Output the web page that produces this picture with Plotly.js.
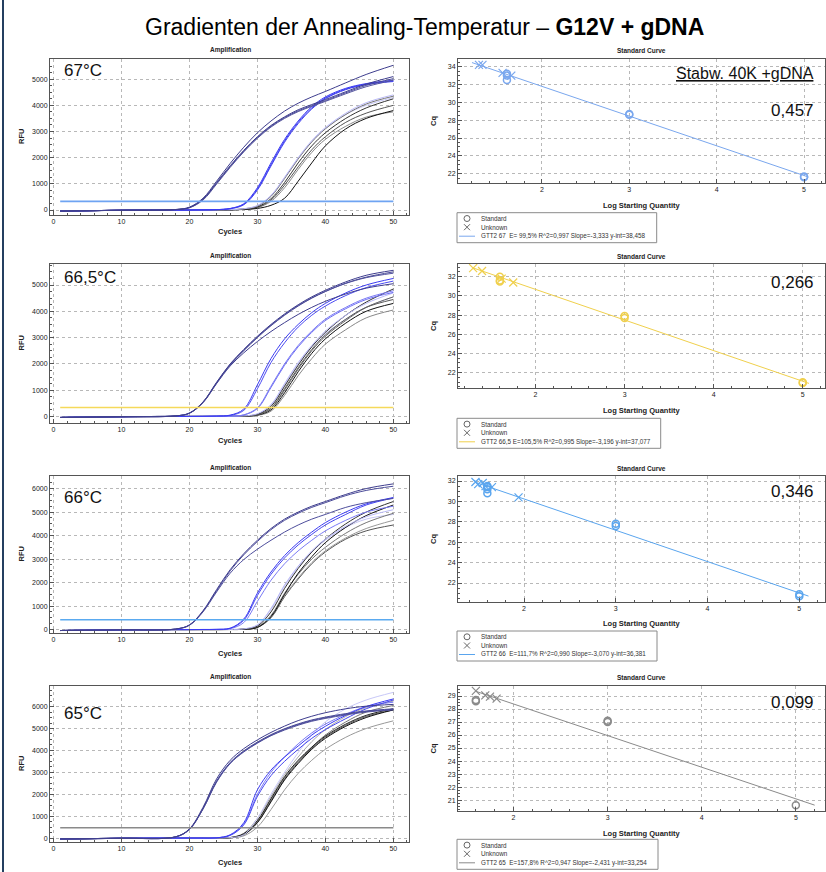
<!DOCTYPE html>
<html><head><meta charset="utf-8">
<script src="https://cdn.plot.ly/plotly-3.0.1.min.js"></script>
<style>html,body{margin:0;padding:0;background:#fff}#chart{width:826px;height:872px}</style>
</head><body><div id="chart"></div>
<script>
// ---------------- DATA ----------------
const cycles = [1,10,18,20,22,24,26,28,30,32,34,36,38,40,43,46,50];

const rfu67 = [
 [-40,-10,20,110,450,1100,1780,2400,2950,3400,3780,4080,4320,4530,4860,5180,5530],
 [-40,-10,20,100,420,1050,1690,2280,2800,3230,3560,3830,4030,4220,4520,4810,5100],
 [-40,-10,15,90,400,1020,1660,2250,2770,3200,3530,3790,3990,4180,4480,4760,5020],
 [-40,-10,15,85,380,990,1630,2220,2740,3170,3500,3760,3960,4150,4440,4710,4960],
 [-40,-10,0,0,5,15,60,240,850,1800,2700,3400,3950,4320,4650,4830,4960],
 [-40,-10,0,0,5,15,55,220,800,1730,2640,3350,3900,4280,4620,4810,4930],
 [-40,-10,0,0,5,15,50,200,760,1680,2590,3300,3860,4250,4600,4790,4910],
 [-40,-10,0,0,0,5,15,50,170,560,1250,2000,2650,3150,3700,4100,4400],
 [-40,-10,0,0,0,5,15,45,150,520,1200,1950,2600,3100,3650,4050,4350],
 [-40,-10,0,0,0,0,10,35,120,430,1050,1800,2450,2950,3500,3900,4250],
 [-40,-10,0,0,0,0,5,20,60,180,450,1100,1800,2450,3100,3500,3800],
 [-40,-10,0,0,0,0,8,30,100,380,950,1650,2300,2800,3350,3700,4000],
 [-40,-10,0,0,0,5,12,45,160,540,1230,1980,2620,3120,3650,4000,4300],
 [-40,-10,0,0,0,0,8,25,90,330,850,1550,2200,2700,3200,3550,3750]
];
const rfu665 = [
 [-40,-10,20,130,550,1300,2000,2550,3050,3500,3900,4250,4550,4800,5120,5370,5560],
 [-40,-10,20,120,530,1270,1960,2500,3000,3450,3850,4200,4500,4750,5070,5300,5500],
 [-40,-10,20,120,520,1250,1920,2420,2850,3230,3570,3880,4150,4380,4660,4880,5050],
 [-40,-10,20,125,540,1280,1980,2520,3020,3470,3870,4220,4510,4760,5060,5280,5450],
 [-40,-10,0,0,5,15,50,280,1200,2200,2950,3500,3950,4300,4700,5000,5250],
 [-40,-10,0,0,5,12,40,230,1050,2050,2800,3400,3850,4200,4600,4900,5150],
 [-40,-10,0,0,0,5,10,60,330,1150,2000,2700,3250,3700,4150,4500,4780],
 [-40,-10,0,0,0,5,10,55,300,1100,1950,2650,3200,3650,4100,4450,4720],
 [-40,-10,0,0,0,0,5,20,100,450,1250,2050,2700,3250,3850,4300,4700],
 [-40,-10,0,0,0,0,5,15,80,380,1150,1950,2650,3200,3850,4350,4850],
 [-40,-10,0,0,0,0,3,10,60,300,1000,1800,2500,3050,3650,4150,4550],
 [-40,-10,0,0,0,0,3,8,50,250,900,1700,2400,2950,3550,4000,4300],
 [-40,-10,0,0,0,0,2,5,40,200,800,1550,2200,2750,3300,3750,4050],
 [-40,-10,0,0,0,0,3,10,60,320,1050,1850,2550,3100,3700,4150,4450],
 [-40,-10,0,0,0,0,5,15,90,420,1200,2000,2650,3150,3700,4150,4550]
];
const rfu66 = [
 [-40,-10,25,200,800,1700,2550,3230,3800,4300,4700,5000,5250,5450,5750,6000,6200],
 [-40,-10,25,190,780,1650,2500,3180,3750,4250,4650,4950,5200,5400,5700,5920,6100],
 [-40,-10,25,180,750,1600,2400,2980,3420,3800,4150,4450,4700,4900,5200,5400,5580],
 [-40,-10,0,0,5,10,60,450,1550,2450,3150,3700,4150,4550,5000,5350,5620],
 [-40,-10,0,0,5,10,55,400,1450,2350,3050,3600,4050,4450,4900,5300,5600],
 [-40,-10,0,0,0,5,40,300,1200,2100,2800,3350,3800,4200,4650,5000,5250],
 [-40,-10,0,0,0,0,5,30,200,900,1900,2700,3350,3850,4400,4800,5100],
 [-40,-10,0,0,0,0,5,20,150,750,1750,2600,3300,3850,4500,5000,5450],
 [-40,-10,0,0,0,0,3,10,90,550,1500,2400,3100,3700,4350,4850,5300],
 [-40,-10,0,0,0,0,3,15,110,600,1550,2350,3000,3500,4100,4550,4950],
 [-40,-10,0,0,0,0,3,12,100,550,1450,2200,2850,3350,3900,4300,4650],
 [-40,-10,0,0,0,0,3,10,90,500,1400,2150,2800,3300,3850,4200,4450],
 [-40,-10,0,0,0,0,5,25,180,850,1850,2650,3300,3800,4350,4700,4900]
];
const rfu65 = [
 [-40,-10,60,420,1400,2700,3550,4080,4480,4820,5110,5360,5560,5720,5900,6020,6100],
 [-40,-10,55,400,1350,2600,3450,3980,4380,4720,4990,5210,5390,5520,5680,5800,5900],
 [-40,-10,55,390,1320,2550,3400,3930,4330,4670,4930,5150,5330,5460,5620,5750,5850],
 [-40,-10,55,395,1330,2580,3420,3950,4350,4690,4960,5180,5360,5490,5650,5780,5870],
 [-40,-10,0,0,0,10,150,700,2200,3100,3700,4200,4700,5100,5600,6000,6350],
 [-40,-10,0,0,0,10,120,600,1900,2850,3500,4050,4550,4950,5450,5900,6300],
 [-40,-10,0,0,0,10,130,650,2000,3000,3700,4300,4800,5200,5650,6000,6200],
 [-40,-10,0,0,0,0,20,150,900,2000,3000,3900,4700,5300,5900,6300,6650],
 [-40,-10,0,0,0,0,20,200,800,1800,2800,3550,4150,4650,5200,5600,5900],
 [-40,-10,0,0,0,0,15,150,700,1650,2650,3400,4050,4550,5100,5500,5850],
 [-40,-10,0,0,0,0,20,180,750,1750,2750,3500,4150,4700,5300,5750,6050],
 [-40,-10,0,0,0,0,10,100,500,1300,2200,2950,3550,4050,4600,5000,5350],
 [-40,-10,0,0,0,0,15,160,720,1700,2700,3450,4100,4600,5150,5550,5850],
 [-40,-10,0,0,0,0,25,220,900,1900,2900,3700,4400,4950,5550,5950,6250]
];
const thresholds = [330, 340, 420, 470];

const std67X = [1.6,1.6,1.6,3,3,5,5];
const std67Y = [33.2,33.0,32.5,28.6,28.7,21.7,21.6];
const unk67X = [1.28,1.32,1.55,1.65];
const unk67Y = [34.2,34.2,33.3,33.0];
const fit67X = [1.2,5.05];
const fit67Y = [34.46,21.63];

const std665X = [1.6,1.6,1.6,3,3,5,5];
const std665Y = [32.0,31.6,31.5,27.9,27.7,21.0,20.9];
const unk665X = [1.3,1.4,1.62,1.75];
const unk665Y = [32.9,32.6,31.8,31.4];
const fit665X = [1.3,5.07];
const fit665Y = [32.92,20.87];

const std66X = [1.6,1.6,1.6,1.6,3,3,5,5];
const std66Y = [31.5,31.4,31.2,30.8,27.8,27.6,20.9,20.7];
const unk66X = [1.47,1.5,1.55,1.58,1.65,1.94];
const unk66Y = [31.9,31.7,31.8,31.5,31.4,30.4];
const fit66X = [1.47,5.1];
const fit66Y = [31.87,20.72];

const std65X = [1.6,1.6,3,3,5];
const std65Y = [28.7,28.6,27.1,27.0,20.6];
const unk65X = [1.6,1.7,1.75,1.82];
const unk65Y = [29.4,29.05,28.95,28.8];
const fit65X = [1.6,5.2];
const fit65Y = [29.36,20.61];

const tempLabels = ["67°C","66,5°C","66°C","65°C"];
const sdValues = ["0,457","0,266","0,346","0,099"];
const fitLabels = [
 "GTT2 67  E= 99,5% R^2=0,997 Slope=-3,333 y-int=38,458",
 "GTT2 66,5 E=105,5% R^2=0,995 Slope=-3,196 y-int=37,077",
 "GTT2 66  E=111,7% R^2=0,990 Slope=-3,070 y-int=36,381",
 "GTT2 65  E=157,8% R^2=0,947 Slope=-2,431 y-int=33,254"
];
const titleMain = "Gradienten der Annealing-Temperatur – <b>G12V + gDNA</b>";
const noteText = "Stabw. 40K +gDNA";

// ---------------- STYLES ----------------
const NAVY='#3e3d8e', BLUE='#3b3bf2', LBLUE='#7a7af5';
const col67  = [NAVY,NAVY,'#4a4a98','#55559e',BLUE,BLUE,'#4848f0','#b9b9f7','#777777','#333333','#111111','#555555','#c6c6f5','#8a8a8a'];
const col665 = [NAVY,'#4a4a98',NAVY,'#55559e',BLUE,'#4a4af2',LBLUE,'#6c6cf3','#b9b9f7','#333333','#666666','#111111','#888888','#555555','#c2c2f2'];
const col66  = [NAVY,'#4a4a98','#4e4e9c',BLUE,'#4646f0',LBLUE,'#b9b9f7','#333333','#111111','#777777','#999999','#555555','#c6c6f2'];
const col65  = [NAVY,'#4a4a98','#50509c','#45459a',BLUE,'#4646f0',LBLUE,'#c8c8f8','#222222','#111111','#777777','#999999','#555555','#aaaaaa'];
const thrCols = ['#6fa4f2','#f5d95a','#5aaaf0','#8a8a8a'];
const stdCols = ['#7aa7ee','#f0d04c','#5aa5ee','#8a8a8a'];

const W=826,H=872;
const px=x=>x/W, py=y=>1-y/H;
const FONT='Liberation Sans, Arial, sans-serif';

const rows = [
 {rfu:rfu67, col:col67, yr:[-190,5770], dt:1000, sx:std67X, sy:std67Y, ux:unk67X, uy:unk67Y, fx:fit67X, fy:fit67Y,
  sxr:[1.04,5.24], syr:[20.96,34.86], sdt:2, top:59, lb:215, rb:183, ttl:50, cyc:232, lsq:205, leg:[212.7,656.7], tl:71, vl:110.5},
 {rfu:rfu665, col:col665, yr:[-250,5800], dt:1000, sx:std665X, sy:std665Y, ux:unk665X, uy:unk665Y, fx:fit665X, fy:fit665Y,
  sxr:[1.13,5.25], syr:[20.39,33.33], sdt:2, top:264, lb:423, rb:388, ttl:256, cyc:440, lsq:410, leg:[418.3,660.7], tl:278, vl:282},
 {rfu:rfu66, col:col66, yr:[-145,6535], dt:1000, sx:std66X, sy:std66Y, ux:unk66X, uy:unk66Y, fx:fit66X, fy:fit66Y,
  sxr:[1.28,5.28], syr:[20.14,32.49], sdt:2, top:476, lb:633, rb:602, ttl:468, cyc:653, lsq:623, leg:[631,657], tl:497, vl:492},
 {rfu:rfu65, col:col65, yr:[-180,6940], dt:1000, sx:std65X, sy:std65Y, ux:unk65X, uy:unk65Y, fx:fit65X, fy:fit65Y,
  sxr:[1.41,5.31], syr:[20.16,29.77], sdt:1, top:686, lb:842, rb:811, ttl:677, cyc:862, lsq:833, leg:[839.3,658], tl:713, vl:702}
];

const id = (p,n)=> n===1 ? p : p+n;
const traces=[], layout={
  width:W, height:H, margin:{l:0,r:0,t:0,b:0}, paper_bgcolor:'#fff', plot_bgcolor:'#fff',
  showlegend:false, font:{family:FONT, size:7, color:'#222'}, annotations:[], shapes:[]
};
const ann = (o)=>layout.annotations.push(Object.assign({xref:'paper',yref:'paper',showarrow:false,
  xanchor:'center', yanchor:'middle', borderpad:0, font:{family:FONT,size:7,color:'#222'}},o));
const pline = (x0,y0,x1,y1,color,w)=>layout.shapes.push({type:'line', xref:'paper', yref:'paper',
  x0:px(x0), x1:px(x1), y0:py(y0), y1:py(y1), line:{color:color, width:w}});

const axBase = {showgrid:true, gridcolor:'#b8b8b8', griddash:'dot', gridwidth:1, zeroline:false,
  showline:true, linecolor:'#555', linewidth:1, mirror:true, ticks:'inside', ticklen:4, tickcolor:'#555',
  tickfont:{family:FONT,size:7,color:'#222'}, fixedrange:true};

rows.forEach((r,i)=>{
  const na=2*i+1, ns=2*i+2;
  const xa=id('x',na), ya=id('y',na), xs=id('x',ns), ys=id('y',ns);
  layout[id('xaxis',na)] = Object.assign({}, axBase, {domain:[px(50),px(409)], range:[-0.5,52.3], anchor:ya,
    tick0:0, dtick:10, minor:{dtick:2, ticks:'inside', ticklen:2, tickcolor:'#555', showgrid:false}});
  layout[id('yaxis',na)] = Object.assign({}, axBase, {domain:[py(r.lb),py(r.top)], range:r.yr, anchor:xa,
    tick0:0, dtick:r.dt, minor:{dtick:250, ticks:'inside', ticklen:2, tickcolor:'#555', showgrid:false}});
  layout[id('xaxis',ns)] = Object.assign({}, axBase, {domain:[px(458),px(825)], range:r.sxr, anchor:ys,
    tick0:0, dtick:1, minor:{dtick:0.2, ticks:'inside', ticklen:2, tickcolor:'#555', showgrid:false}});
  layout[id('yaxis',ns)] = Object.assign({}, axBase, {domain:[py(r.rb),py(r.top)], range:r.syr, anchor:xs,
    tick0:0, dtick:r.sdt, minor:{dtick:r.sdt/4, ticks:'inside', ticklen:2, tickcolor:'#555', showgrid:false}});

  for(let k=r.rfu.length-1;k>=0;k--){
    traces.push({type:'scatter', mode:'lines', x:cycles, y:r.rfu[k], xaxis:xa, yaxis:ya,
      line:{color:r.col[k], width:1, shape:'spline', smoothing:1}, hoverinfo:'skip'});
  }
  traces.push({type:'scatter', mode:'lines', x:[cycles[0], cycles[cycles.length-1]], y:[thresholds[i],thresholds[i]],
    xaxis:xa, yaxis:ya, line:{color:thrCols[i], width:1.6}, hoverinfo:'skip'});

  traces.push({type:'scatter', mode:'lines', x:r.fx, y:r.fy, xaxis:xs, yaxis:ys, line:{color:stdCols[i], width:1}, hoverinfo:'skip'});
  traces.push({type:'scatter', mode:'markers', x:r.sx, y:r.sy, xaxis:xs, yaxis:ys,
    marker:{symbol:'circle-open', size:7, color:stdCols[i], line:{width:1.5, color:stdCols[i]}}, hoverinfo:'skip'});
  traces.push({type:'scatter', mode:'markers', x:r.ux, y:r.uy, xaxis:xs, yaxis:ys,
    marker:{symbol:'x-thin-open', size:8, color:stdCols[i], line:{width:1.2, color:stdCols[i]}}, hoverinfo:'skip'});

  ann({x:px(230), y:py(r.ttl), text:'<b>Amplification</b>', font:{family:FONT,size:6.5,color:'#222'}});
  ann({x:px(641), y:py(r.ttl), text:'<b>Standard Curve</b>', font:{family:FONT,size:6.5,color:'#222'}});
  ann({x:px(230), y:py(r.cyc), text:'<b>Cycles</b>', font:{family:FONT,size:7.5,color:'#222'}});
  ann({x:px(641), y:py(r.lsq), text:'<b>Log Starting Quantity</b>', font:{family:FONT,size:7.5,color:'#222'}});
  ann({x:px(21), y:py((r.top+r.lb)/2), text:'<b>RFU</b>', textangle:-90, font:{family:FONT,size:7.5,color:'#222'}});
  ann({x:px(433), y:py((r.top+r.rb)/2), text:'<b>Cq</b>', textangle:-90, font:{family:FONT,size:7.5,color:'#222'}});
  ann({x:px(63), y:py(r.tl), xanchor:'left', text:tempLabels[i], font:{family:FONT,size:17,color:'#111'}});
  ann({x:px(815), y:py(r.vl), xanchor:'right', text:sdValues[i], font:{family:FONT,size:17,color:'#111'}});

  // legend box drawn with shapes + text
  const lt=r.leg[0], lr=r.leg[1];
  layout.shapes.push({type:'rect', xref:'paper', yref:'paper', x0:px(457), x1:px(lr), y0:py(lt), y1:py(lt+30),
    line:{color:'#8a8a8a', width:1}, fillcolor:'rgba(0,0,0,0)'});
  layout.shapes.push({type:'circle', xref:'paper', yref:'paper', x0:px(464), x1:px(470), y0:py(lt+2.8), y1:py(lt+8.8),
    line:{color:'#666', width:1}});
  pline(464, lt+11.5, 470, lt+17.5, '#666', 1);
  pline(464, lt+17.5, 470, lt+11.5, '#666', 1);
  pline(459, lt+23.5, 475, lt+23.5, stdCols[i], 1);
  ann({x:px(480), y:py(lt+5.8), xanchor:'left', text:'Standard', font:{family:FONT,size:6.3,color:'#333'}});
  ann({x:px(480), y:py(lt+14.6), xanchor:'left', text:'Unknown', font:{family:FONT,size:6.3,color:'#333'}});
  ann({x:px(480), y:py(lt+23.4), xanchor:'left', text:fitLabels[i], font:{family:FONT,size:6.3,color:'#333'}});
});

ann({x:px(815), y:py(73), xanchor:'right', text:'<u>'+noteText+'</u>', font:{family:FONT,size:16,color:'#111'}});
ann({x:px(424), y:py(27), text:titleMain, font:{family:FONT,size:23,color:'#000'}});
layout.shapes.push({type:'line', xref:'paper', yref:'paper', x0:px(3), x1:px(3), y0:0, y1:1, line:{color:'#243f60', width:2}});

Plotly.newPlot('chart', traces, layout, {staticPlot:true, displayModeBar:false});
</script></body></html>
